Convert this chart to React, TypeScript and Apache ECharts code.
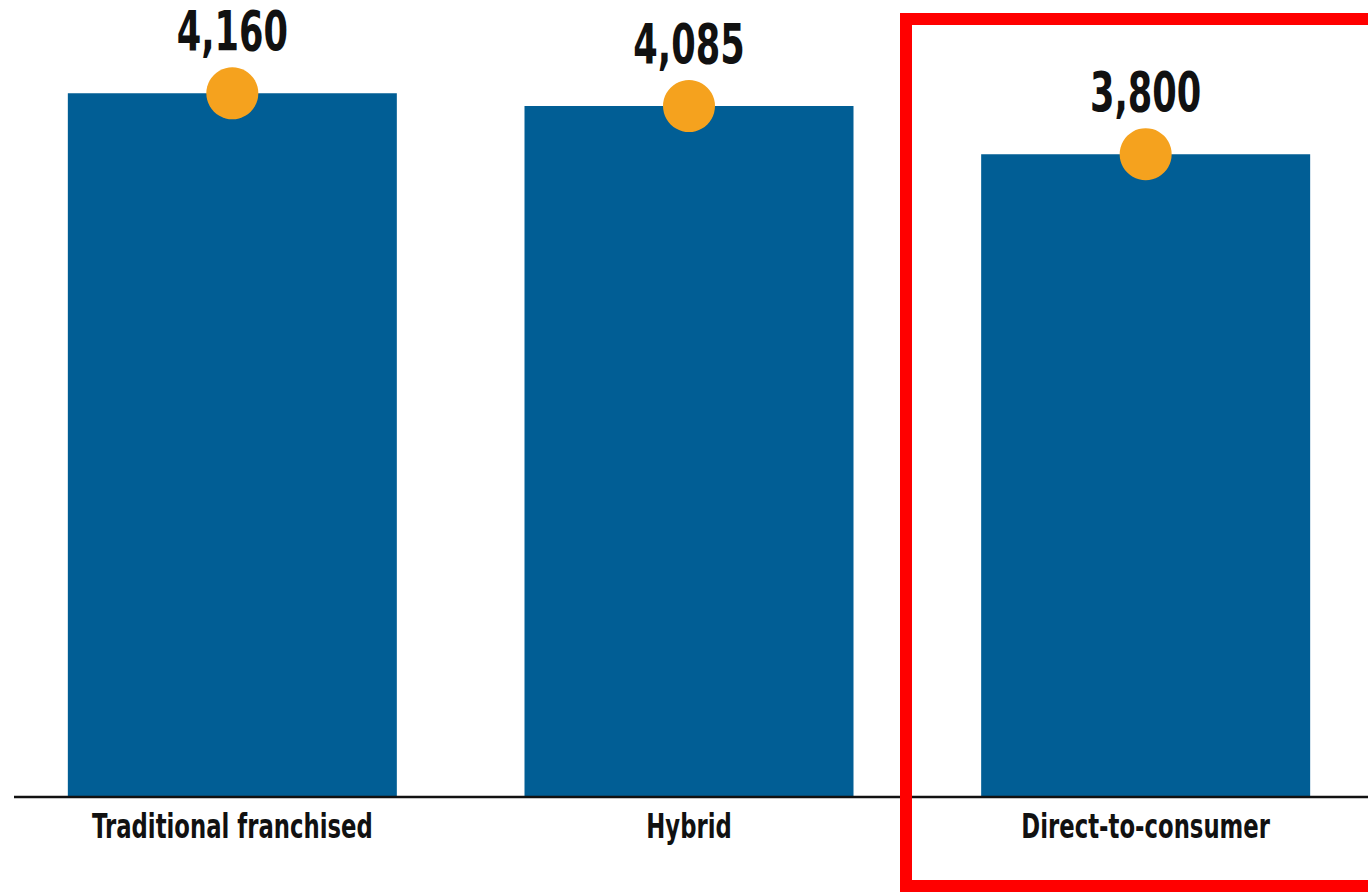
import React, { useEffect, useRef } from "react";
import * as echarts from "echarts";

const categories = ["Traditional franchised", "Hybrid", "Direct-to-consumer"];
const values = [4160, 4085, 3800];

const BAR_COLOR = "#015E95";
const DOT_COLOR = "#F5A21E";
const TEXT_COLOR = "#111111";
const FONT_FAMILY = "'DejaVu Sans', sans-serif";
const VALUE_SQUEEZE = 0.64;
const LABEL_SQUEEZE = 0.69;

export default function App() {
  const ref = useRef<HTMLDivElement>(null);
  useEffect(() => {
    document.body.style.margin = "0";
    const chart = echarts.init(ref.current!, null, { renderer: "svg" });
    chart.setOption({
      animation: false,
      backgroundColor: "#ffffff",
      grid: { left: 4, top: 2, bottom: 96, width: 1370 },
      xAxis: {
        type: "category",
        data: categories,
        axisLine: { show: false },
        axisTick: { show: false },
        axisLabel: { show: false },
      },
      yAxis: {
        type: "value",
        min: 0,
        max: 4700,
        show: false,
        splitLine: { show: false },
      },
      series: [
        {
          type: "bar",
          data: values,
          barWidth: 329,
          itemStyle: { color: BAR_COLOR },
          z: 2,
        },
        {
          type: "scatter",
          data: values,
          symbol: "circle",
          symbolSize: 52,
          itemStyle: { color: DOT_COLOR, opacity: 1 },
          z: 3,
        },
      ],
    });

    const texts: any[] = [];
    categories.forEach((cat, i) => {
      const top = chart.convertToPixel({ seriesIndex: 0 }, [i, values[i]]) as number[];
      const base = chart.convertToPixel({ seriesIndex: 0 }, [i, 0]) as number[];
      texts.push({
        type: "text",
        x: top[0],
        y: top[1] - 62,
        scaleX: VALUE_SQUEEZE,
        z: 30,
        style: {
          text: values[i].toLocaleString("en-US"),
          fontFamily: FONT_FAMILY,
          fontWeight: "bold",
          fontSize: 55,
          fill: TEXT_COLOR,
          textAlign: "center",
          textVerticalAlign: "middle",
        },
      });
      texts.push({
        type: "text",
        x: base[0],
        y: base[1] + 30,
        scaleX: LABEL_SQUEEZE,
        z: 30,
        style: {
          text: cat,
          fontFamily: FONT_FAMILY,
          fontWeight: "bold",
          fontSize: 33,
          fill: TEXT_COLOR,
          textAlign: "center",
          textVerticalAlign: "middle",
        },
      });
    });

    chart.setOption({
      graphic: [
        {
          type: "line",
          shape: { x1: 14, y1: 797, x2: 1368, y2: 797 },
          style: { stroke: TEXT_COLOR, lineWidth: 2.5 },
          z: 10,
        },
        ...texts,
        {
          type: "rect",
          shape: { x: 906, y: 19, width: 480, height: 867 },
          style: { fill: "none", stroke: "#FF0000", lineWidth: 12 },
          z: 40,
        },
      ],
    });
    return () => chart.dispose();
  }, []);
  return (
    <div style={{ position: "absolute", left: 0, top: 0, width: 1368, height: 893, overflow: "hidden" }}>
      <div ref={ref} style={{ width: 1380, height: 893 }} />
    </div>
  );
}
